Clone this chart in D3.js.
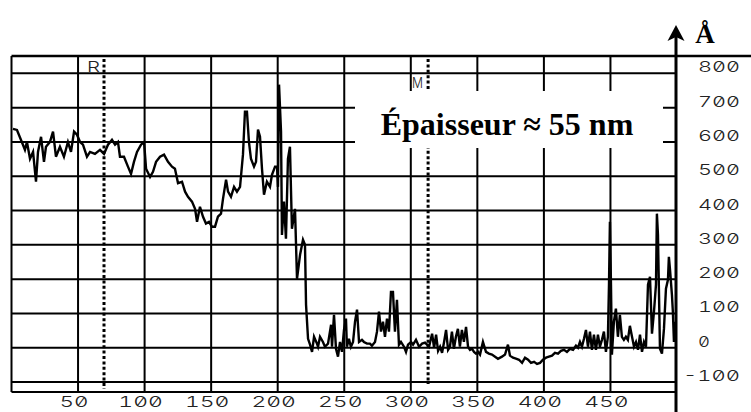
<!DOCTYPE html>
<html>
<head>
<meta charset="utf-8">
<script src="https://cdn.jsdelivr.net/npm/d3@7"></script>
<style>
  html, body { margin: 0; padding: 0; background: #fff; }
  svg { display: block; }
  .tick-label {
    font-family: Inter, "DejaVu Sans Mono", monospace; font-size: 15px; font-weight: 300; fill: #222;
    font-feature-settings: "zero" 1, "tnum" 1;
  }
  .big { font-family: "Liberation Serif", "Times New Roman", serif; font-weight: bold; fill: #000; }
</style>
</head>
<body>
<div id="chart"></div>
<script>
// profile trace: scan position vs height (Å)
const profileX = [
  1.1, 4.1, 8.6, 10.1, 11.6, 13.9, 16.2, 18.4, 19.9, 22.2, 24.4, 25.9, 28.9, 31.2, 33.4, 36.4,
  39.4, 42.4, 44.7, 47.0, 49.2, 51.5, 53.7, 56.7, 59.0, 62.7, 66.5, 69.5, 72.5, 75.5, 77.8, 80.0,
  81.5, 84.5, 87.5, 89.8, 92.0, 94.3, 97.3, 99.6, 101.1, 104.1, 106.3, 108.6, 111.6, 114.6, 117.6, 120.6,
  122.8, 125.1, 128.1, 130.4, 132.6, 135.6, 137.9, 139.4, 141.6, 143.9, 146.1, 148.4, 150.6, 152.9, 155.1, 157.4,
  158.9, 161.2, 162.7, 164.9, 167.2, 169.4, 171.7, 173.9, 175.4, 176.9, 178.4, 179.9, 182.2, 183.7, 185.2, 186.7,
  188.2, 189.7, 191.9, 194.2, 195.7, 198.0, 199.5, 200.2, 201.0, 202.5, 203.2, 204.7, 206.2, 207.7, 209.2, 210.7,
  213.0, 214.5, 216.8, 219.0, 220.5, 221.3, 222.8, 224.3, 225.8, 227.3, 229.5, 230.3, 231.8, 234.0, 235.5, 237.8,
  240.1, 240.8, 242.3, 243.8, 245.3, 246.8, 248.3, 249.8, 251.3, 252.0, 253.5, 255.0, 256.6, 258.1, 259.6, 261.1,
  263.3, 264.8, 267.1, 269.3, 270.8, 273.1, 274.6, 276.1, 277.6, 279.1, 280.6, 282.1, 283.6, 285.1, 286.6, 288.1,
  289.6, 291.1, 292.6, 294.9, 296.4, 297.9, 300.2, 301.7, 303.9, 306.2, 308.5, 310.7, 312.2, 313.7, 316.0, 317.5,
  319.0, 320.5, 322.0, 323.5, 325.0, 326.5, 328.0, 329.4, 330.9, 332.4, 333.9, 335.4, 336.9, 338.4, 339.9, 341.5,
  343.0, 344.5, 346.0, 347.5, 349.0, 350.5, 352.0, 354.2, 356.5, 358.7, 361.0, 363.3, 365.5, 368.5, 370.8, 373.0,
  374.5, 376.8, 379.0, 381.3, 383.6, 385.8, 388.1, 390.3, 392.6, 394.8, 397.1, 399.3, 401.6, 403.8, 406.1, 408.3,
  410.6, 412.8, 415.1, 417.3, 419.6, 421.9, 424.1, 425.6, 427.1, 428.6, 430.1, 431.6, 433.1, 434.6, 436.1, 437.6,
  439.1, 440.6, 442.1, 443.6, 445.1, 446.6, 448.1, 448.9, 449.6, 450.4, 451.1, 452.6, 454.1, 455.6, 457.1, 458.6,
  460.1, 461.6, 463.1, 464.6, 466.2, 467.7, 469.2, 470.7, 472.2, 473.7, 475.2, 476.7, 478.2, 479.7, 481.2, 482.7,
  484.2, 484.9, 485.7, 487.2, 488.7, 490.2, 491.7, 493.2, 493.9, 494.7, 496.2, 496.9, 497.7, 498.4
];
const profileA = [
  638, 635, 592, 577, 600, 551, 571, 484, 571, 615, 542, 586, 600, 630, 557, 586,
  557, 600, 571, 630, 621, 600, 592, 557, 571, 565, 577, 565, 592, 606, 592, 600,
  557, 557, 528, 507, 542, 571, 592, 600, 522, 498, 513, 542, 557, 563, 542, 528,
  522, 480, 484, 455, 440, 426, 405, 367, 411, 382, 362, 367, 353, 353, 382, 391,
  434, 490, 455, 440, 469, 455, 469, 563, 688, 688, 600, 551, 528, 542, 636, 615,
  522, 446, 484, 469, 504, 528, 528, 469, 767, 630, 329, 426, 318, 551, 586, 347,
  405, 201, 271, 315, 300, 125, 26, 9, -12, 32, 12, 3, 32, 17, 3, 12,
  67, 3, 96, -3, -26, 17, -12, 52, 85, 3, 26, 3, 17, 76, 111, 17,
  23, 17, 12, 12, 6, 17, 47, 105, 47, 76, 32, 85, 47, 163, 163, 47,
  140, 9, 17, 3, -12, 9, 17, 9, 23, 3, 12, 15, 9, 3, 41, 0,
  38, -9, 3, -15, 17, 52, -6, 3, 47, -3, 32, 55, 3, 52, 17, 61,
  3, -6, -3, -12, -17, -12, -20, 17, -12, -17, -20, -26, -32, -26, -20, 9,
  -23, -29, -32, -35, -44, -29, -35, -44, -41, -47, -44, -35, -29, -26, -23, -15,
  -17, -9, -6, -12, -3, -6, 6, 0, 17, 3, 26, 52, 3, 47, -6, 38,
  -6, 38, 3, 23, 47, -12, 32, 184, 367, 184, -20, 76, 114, 32, 96, 32,
  23, 32, 23, 64, 32, 3, 17, -6, 38, -12, 17, 3, 184, 207, 41, 105,
  184, 391, 329, -3, -17, 55, 172, 198, 265, 230, 154, 105, 17, 76
];

const xTicks = [50, 100, 150, 200, 250, 300, 350, 400, 450];
const xGrid = [50, 100, 150, 200, 250, 300, 350, 400, 450];
const yTicks = [800, 700, 600, 500, 400, 300, 200, 100, 0, -100];
const markerNames = ['R', 'M'];
const markerPos = [69.5, 313];
const annotation = 'Épaisseur ≈ 55 nm';
const unitLabel = 'Å';

const W = 751, H = 412;
const svg = d3.select('#chart').append('svg')
  .attr('width', W).attr('height', H)
  .attr('viewBox', `0 0 ${W} ${H}`);

const x = d3.scaleLinear().domain([0, 500]).range([11.5, 677]);
const y = d3.scaleLinear().domain([-129, 850.6]).range([392, 56]);
const plotL = x(0), plotR = 676, plotT = 56, plotB = 392;

// grid
const grid = svg.append('g').attr('stroke', '#000').attr('stroke-width', 2);
grid.selectAll('line.h').data(yTicks).join('line')
  .attr('class', 'h')
  .attr('x1', plotL).attr('x2', plotR)
  .attr('y1', d => y(d)).attr('y2', d => y(d));
grid.selectAll('line.v').data(xGrid).join('line')
  .attr('class', 'v')
  .attr('x1', d => x(d)).attr('x2', d => x(d))
  .attr('y1', plotT).attr('y2', plotB);

// profile trace
const pts = profileX.map((d, i) => [d, profileA[i]]);
svg.append('path')
  .attr('d', d3.line().x(d => x(d[0])).y(d => y(d[1]))(pts))
  .attr('fill', 'none')
  .attr('stroke', '#000')
  .attr('stroke-width', 2.4)
  .attr('stroke-linejoin', 'miter');

// cursors R / M
const cur = svg.append('g');
cur.selectAll('line').data(markerPos).join('line')
  .attr('x1', d => x(d)).attr('x2', d => x(d))
  .attr('y1', plotT + 3).attr('y2', (d, i) => i === 0 ? 389 : 384)
  .attr('stroke', '#000').attr('stroke-width', 3)
  .attr('stroke-dasharray', '3 2.4');
cur.append('text').attr('class', 'tick-label')
  .attr('x', x(markerPos[0]) - 17).attr('y', 72)
  .attr('font-size', 14)
  .attr('textLength', 13).attr('lengthAdjust', 'spacingAndGlyphs')
  .text(markerNames[0]);
cur.append('text').attr('class', 'tick-label')
  .attr('x', x(markerPos[1]) - 16).attr('y', 88)
  .attr('font-size', 11)
  .attr('textLength', 11).attr('lengthAdjust', 'spacingAndGlyphs')
  .text(markerNames[1]);

// annotation box
svg.append('rect')
  .attr('x', 355).attr('y', 91).attr('width', 308).attr('height', 57)
  .attr('fill', '#fff');
svg.append('text').attr('class', 'big')
  .attr('x', 507).attr('y', 135)
  .attr('text-anchor', 'middle')
  .attr('font-size', 32)
  .text(annotation);

// frame
const frame = svg.append('g').attr('stroke', '#000').attr('fill', 'none');
frame.append('line').attr('x1', plotL).attr('x2', W).attr('y1', plotT).attr('y2', plotT).attr('stroke-width', 2.5);
frame.append('line').attr('x1', plotL).attr('x2', plotL).attr('y1', plotT).attr('y2', plotB).attr('stroke-width', 2);
frame.append('line').attr('x1', plotL).attr('x2', plotR).attr('y1', plotB).attr('y2', plotB).attr('stroke-width', 2);
// vertical axis with arrow
frame.append('line').attr('x1', plotR).attr('x2', plotR).attr('y1', 36).attr('y2', H).attr('stroke-width', 3);
svg.append('path')
  .attr('d', `M${plotR},25 L${plotR + 8.5},41 L${plotR},37 L${plotR - 8.5},41 Z`)
  .attr('fill', '#000');
svg.append('text').attr('class', 'big')
  .attr('x', 705).attr('y', 43)
  .attr('text-anchor', 'middle')
  .attr('font-size', 27)
  .text(unitLabel);

// tick labels
const charW = 15;
svg.append('g').selectAll('text').data(yTicks).join('text')
  .attr('class', 'tick-label')
  .attr('x', d => d < 0 ? 698 - charW : 698)
  .attr('y', d => y(d) - 1)
  .attr('textLength', d => String(d).length * charW - 3)
  .attr('lengthAdjust', 'spacingAndGlyphs')
  .text(d => d);
svg.append('g').selectAll('text').data(xTicks).join('text')
  .attr('class', 'tick-label')
  .attr('x', d => x(d) - 4)
  .attr('y', 407)
  .attr('text-anchor', 'middle')
  .attr('textLength', d => String(d).length * 15.5 - 2)
  .attr('lengthAdjust', 'spacingAndGlyphs')
  .text(d => d);
</script>
</body>
</html>
